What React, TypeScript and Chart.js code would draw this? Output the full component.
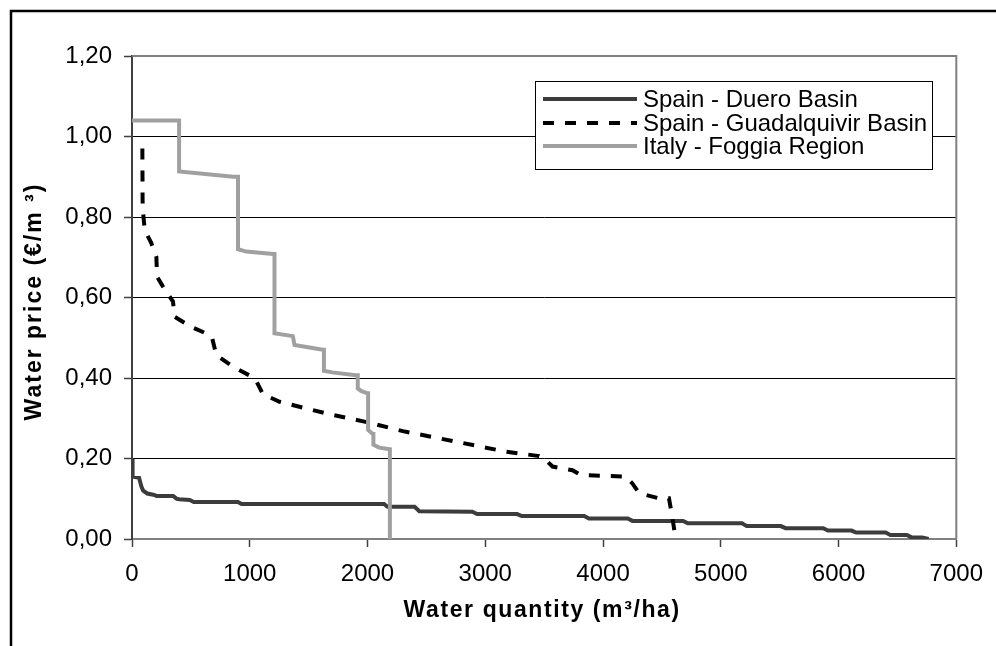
import React, { useEffect, useRef } from "react";
import { Chart, registerables } from "chart.js";

Chart.register(...registerables);

// ---- Data ----
const seriesLabels = ["Spain - Duero Basin", "Spain - Guadalquivir Basin", "Italy - Foggia Region"];
const xTitle = "Water quantity (m³/ha)";
const yTitle = "Water price (€/m ³)";

const dueroX = [5, 5, 60, 80, 95, 130, 180, 210, 350, 380, 400, 490, 525, 900, 930, 2140, 2170, 2400, 2440, 2890, 2930, 3270, 3310, 3840, 3880, 4210, 4250, 4680, 4720, 5180, 5220, 5510, 5550, 5870, 5910, 6110, 6150, 6400, 6440, 6580, 6620, 6710, 6765];
const dueroY = [0.2, 0.155, 0.152, 0.13, 0.12, 0.113, 0.11, 0.107, 0.107, 0.1, 0.099, 0.097, 0.092, 0.092, 0.087, 0.087, 0.08, 0.08, 0.069, 0.068, 0.062, 0.062, 0.057, 0.057, 0.051, 0.051, 0.045, 0.045, 0.039, 0.039, 0.032, 0.032, 0.027, 0.027, 0.021, 0.021, 0.016, 0.016, 0.01, 0.01, 0.004, 0.004, 0];

const guadX = [88, 90, 92, 108, 164, 207, 212, 263, 320, 348, 362, 504, 659, 680, 716, 857, 1026, 1060, 1111, 1253, 1649, 2000, 2300, 2610, 3176, 3458, 3515, 3571, 3740, 3811, 4193, 4249, 4306, 4476, 4560, 4588, 4617];
const guadY = [0.97, 0.84, 0.817, 0.768, 0.735, 0.701, 0.652, 0.627, 0.602, 0.59, 0.552, 0.527, 0.507, 0.5, 0.457, 0.428, 0.402, 0.39, 0.36, 0.341, 0.312, 0.29, 0.268, 0.25, 0.217, 0.206, 0.196, 0.18, 0.171, 0.159, 0.155, 0.138, 0.114, 0.101, 0.101, 0.055, 0];

const italyX = [0, 400, 400, 860, 900, 900, 970, 1200, 1210, 1210, 1366, 1380, 1620, 1630, 1630, 1700, 1900, 1917, 1917, 1945, 2000, 2005, 2005, 2044, 2050, 2050, 2100, 2190, 2190];
const italyY = [1.04, 1.04, 0.913, 0.9, 0.9, 0.72, 0.714, 0.708, 0.708, 0.511, 0.504, 0.482, 0.47, 0.47, 0.418, 0.414, 0.407, 0.407, 0.374, 0.368, 0.362, 0.362, 0.271, 0.261, 0.261, 0.234, 0.227, 0.223, 0];

const xTicksMax = 7000;
const xStep = 1000;
const yTicksMax = 1.2;
const yStep = 0.2;

const FONT = "'Liberation Sans', Arial, sans-serif";

const toPoints = (xs: number[], ys: number[]) => xs.map((x, i) => ({ x, y: ys[i] }));

const framePlugin = {
  id: "framePlugin",
  afterDraw(chart: any) {
    const ctx = chart.ctx;
    const ca = chart.chartArea;
    ctx.save();
    // outer frame (top + left, continues beyond the page)
    ctx.strokeStyle = "#000";
    ctx.lineWidth = 2.5;
    ctx.beginPath();
    ctx.moveTo(11, chart.height + 5);
    ctx.lineTo(11, 11);
    ctx.lineTo(chart.width + 5, 11);
    ctx.stroke();
    // plot area border top/right
    ctx.strokeStyle = "#808080";
    ctx.lineWidth = 2;
    ctx.beginPath();
    ctx.moveTo(ca.left, ca.top);
    ctx.lineTo(ca.right, ca.top);
    ctx.lineTo(ca.right, ca.bottom);
    ctx.stroke();

    // axis titles (letter-spaced bold text, as in the reference)
    ctx.fillStyle = "#000";
    ctx.font = `bold 23px ${FONT}`;
    ctx.textAlign = "center";
    ctx.textBaseline = "middle";
    try { (ctx as any).letterSpacing = "1.6px"; } catch (e) {}
    ctx.fillText(xTitle, (ca.left + ca.right) / 2 - 2, 611);
    ctx.save();
    ctx.translate(35, (ca.top + ca.bottom) / 2 + 4);
    ctx.rotate(-Math.PI / 2);
    try { (ctx as any).letterSpacing = "2px"; } catch (e) {}
    ctx.fillText(yTitle, 0, 0);
    ctx.restore();
    try { (ctx as any).letterSpacing = "0px"; } catch (e) {}

    // legend
    const bx = 535, by = 81, bw = 397, bh = 88;
    ctx.fillStyle = "#fff";
    ctx.fillRect(bx, by, bw, bh);
    ctx.strokeStyle = "#000";
    ctx.lineWidth = 1;
    ctx.strokeRect(bx + 0.5, by + 0.5, bw, bh);
    const rows = [99, 123, 146];
    chart.data.datasets.forEach((ds: any, i: number) => {
      const y = rows[i];
      ctx.save();
      ctx.strokeStyle = ds.borderColor;
      ctx.lineWidth = ds.borderWidth;
      ctx.setLineDash(ds.borderDash || []);
      ctx.beginPath();
      ctx.moveTo(543, y);
      ctx.lineTo(637, y);
      ctx.stroke();
      ctx.restore();
      ctx.fillStyle = "#000";
      ctx.font = `24px ${FONT}`;
      ctx.textBaseline = "middle";
      ctx.textAlign = "left";
      ctx.fillText(ds.label, 643, y + 1);
    });
    ctx.restore();
  },
};

export default function App() {
  const canvasRef = useRef<HTMLCanvasElement | null>(null);

  useEffect(() => {
    const canvas = canvasRef.current;
    if (!canvas) return;
    const chart = new Chart(canvas, {
      type: "line",
      data: {
        datasets: [
          {
            label: seriesLabels[0],
            data: toPoints(dueroX, dueroY),
            borderColor: "#3c3c3c",
            borderWidth: 4,
            pointRadius: 0,
            tension: 0,
            fill: false,
            order: 2,
          },
          {
            label: seriesLabels[1],
            data: toPoints(guadX, guadY),
            borderColor: "#000000",
            borderWidth: 4,
            borderDash: [11, 11],
            pointRadius: 0,
            tension: 0,
            fill: false,
            order: 1,
          },
          {
            label: seriesLabels[2],
            data: toPoints(italyX, italyY),
            borderColor: "#a0a0a0",
            borderWidth: 4,
            pointRadius: 0,
            tension: 0,
            fill: false,
            order: 0,
          },
        ],
      },
      options: {
        responsive: false,
        animation: false,
        layout: { padding: { left: 0, right: 39, top: 56, bottom: 0 } },
        plugins: {
          legend: { display: false },
          tooltip: { enabled: false },
        },
        scales: {
          x: {
            type: "linear",
            min: 0,
            max: xTicksMax,
            ticks: {
              stepSize: xStep,
              color: "#000",
              font: { family: FONT, size: 24 },
              padding: 13,
              maxRotation: 0,
              callback: (v: any) => String(v),
            },
            grid: {
              drawOnChartArea: false,
              drawTicks: true,
              tickLength: 8,
              tickColor: "#404040",
              tickWidth: 1.5,
            },
            border: { display: true, color: "#808080", width: 2 },
            title: { display: false, text: xTitle },
            afterFit: (s: any) => {
              s.height = 107;
            },
          },
          y: {
            type: "linear",
            min: 0,
            max: yTicksMax,
            ticks: {
              stepSize: yStep,
              color: "#000",
              font: { family: FONT, size: 24 },
              padding: 12,
              callback: (v: any) => Number(v).toFixed(2).replace(".", ","),
            },
            grid: {
              color: "#000",
              lineWidth: 1,
              drawTicks: true,
              tickLength: 8,
              tickColor: "#404040",
              tickWidth: 1.5,
            },
            border: { display: true, color: "#404040", width: 2 },
            title: { display: false, text: yTitle },
            afterFit: (s: any) => {
              s.width = 132;
            },
          },
        },
      },
      plugins: [framePlugin],
    });
    return () => chart.destroy();
  }, []);

  return (
    <div style={{ position: "fixed", left: 0, top: 0, width: 996, height: 646, background: "#fff" }}>
      <canvas ref={canvasRef} width={996} height={646} style={{ width: 996, height: 646, display: "block" }} />
    </div>
  );
}
